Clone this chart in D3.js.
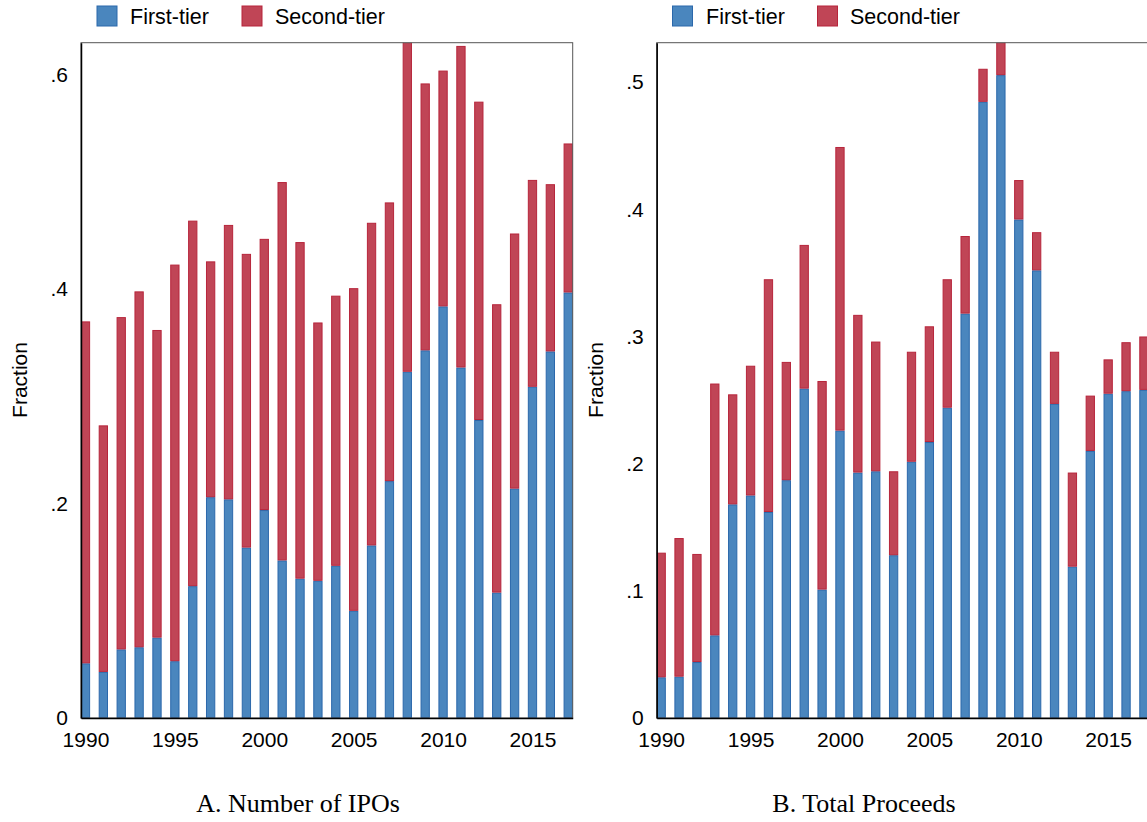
<!DOCTYPE html>
<html>
<head>
<meta charset="utf-8">
<script src="https://cdn.jsdelivr.net/npm/d3@7"></script>
<style>
  body { margin: 0; background: #fff; }
  svg { display: block; }
</style>
</head>
<body>
<svg id="chart" width="1147" height="822"></svg>
<script>
// years on the x axis
const years = [1990, 1991, 1992, 1993, 1994, 1995, 1996, 1997, 1998, 1999,
               2000, 2001, 2002, 2003, 2004, 2005, 2006, 2007, 2008, 2009,
               2010, 2011, 2012, 2013, 2014, 2015, 2016, 2017];
const xTickYears = [1990, 1995, 2000, 2005, 2010, 2015];
const seriesNames = ["First-tier", "Second-tier"];

// Panel A: number of IPOs
const ipoFirstTier = [0.051, 0.043, 0.064, 0.066, 0.075, 0.053, 0.123, 0.206, 0.204, 0.159,
                      0.194, 0.147, 0.130, 0.128, 0.142, 0.100, 0.161, 0.221, 0.323, 0.343,
                      0.384, 0.327, 0.278, 0.117, 0.214, 0.309, 0.342, 0.397];
const ipoSecondTier = [0.319, 0.230, 0.310, 0.332, 0.287, 0.370, 0.341, 0.220, 0.256, 0.274,
                       0.253, 0.353, 0.314, 0.241, 0.252, 0.301, 0.301, 0.260, 0.309, 0.249,
                       0.220, 0.300, 0.297, 0.269, 0.238, 0.193, 0.156, 0.139];
const ipoTicks = [0, 0.2, 0.4, 0.6];

// Panel B: total proceeds
const procFirstTier = [0.032, 0.0325, 0.044, 0.065, 0.168, 0.175, 0.162, 0.187, 0.259, 0.101,
                       0.226, 0.193, 0.194, 0.128, 0.2015, 0.217, 0.244, 0.318, 0.4845, 0.5055,
                       0.392, 0.352, 0.247, 0.119, 0.210, 0.255, 0.257, 0.258];
const procSecondTier = [0.098, 0.109, 0.085, 0.198, 0.0865, 0.102, 0.183, 0.093, 0.113, 0.164,
                        0.223, 0.124, 0.102, 0.066, 0.0865, 0.091, 0.101, 0.061, 0.026, 0.0275,
                        0.031, 0.030, 0.041, 0.074, 0.0435, 0.027, 0.0385, 0.042];
const procTicks = [0, 0.1, 0.2, 0.3, 0.4, 0.5];

const colors = { "First-tier": "#4a86be", "Second-tier": "#c04556" };
const strokes = { "First-tier": "#2b68ab", "Second-tier": "#b7253b" };

const svg = d3.select('#chart');
const sans = "'Liberation Sans', Arial, sans-serif";
const serif = "'Liberation Serif', 'Times New Roman', serif";

function fmtFraction(v) {
    if (v === 0) return "0";
    return d3.format(".1f")(v).replace(/^0/, "");
}

function drawPanel(opts) {
    const left = opts.left, top = 42.7, bottom = 718, width = 491.7;
    const g = svg.append("g");

    const rows = years.map((yr, i) => ({
        year: yr,
        "First-tier": opts.first[i],
        "Second-tier": opts.second[i]
    }));
    const stacked = d3.stack().keys(seriesNames)(rows);

    const x = d3.scaleLinear().domain([1989.75, 2017.25]).range([left, left + width]);
    const y = d3.scaleLinear().domain([0, opts.yMax]).range([bottom, top]);
    const barW = x(1990.52) - x(1990);

    // clip so bars never run out of the frame
    g.append("clipPath").attr("id", opts.id + "-clip")
        .append("rect")
        .attr("x", left).attr("y", top)
        .attr("width", width).attr("height", bottom - top);

    const bars = g.append("g").attr("clip-path", `url(#${opts.id}-clip)`);
    stacked.forEach(layer => {
        bars.append("g")
            .attr("fill", colors[layer.key])
            .attr("stroke", strokes[layer.key])
            .attr("stroke-width", 1)
            .selectAll("rect")
            .data(layer)
            .join("rect")
            .attr("x", d => x(d.data.year) - barW / 2 + 0.5)
            .attr("y", d => y(d[1]) + 0.5)
            .attr("width", barW - 1)
            .attr("height", d => Math.max(0, y(d[0]) - y(d[1]) - 1));
    });

    // frame (top and right)
    g.append("rect")
        .attr("x", left).attr("y", top)
        .attr("width", width).attr("height", bottom - top)
        .attr("fill", "none")
        .attr("stroke", "#555")
        .attr("stroke-width", 1);

    // y axis
    const yAxis = g.append("g")
        .attr("transform", `translate(${left},0)`)
        .call(d3.axisLeft(y).tickValues(opts.ticks).tickSize(0).tickPadding(13).tickFormat(fmtFraction));
    yAxis.select(".domain").attr("stroke", "#000").attr("stroke-width", 1.5);
    yAxis.selectAll("text").attr("font-family", sans).attr("font-size", 21).attr("fill", "#000");

    // x axis
    const xAxis = g.append("g")
        .attr("transform", `translate(0,${bottom})`)
        .call(d3.axisBottom(x).tickValues(xTickYears).tickSize(0).tickPadding(14).tickFormat(d3.format("d")));
    xAxis.select(".domain").attr("stroke", "#000").attr("stroke-width", 1.5);
    xAxis.selectAll("text").attr("font-family", sans).attr("font-size", 21).attr("fill", "#000");

    // y label
    g.append("text")
        .attr("transform", `translate(${opts.yLabelX},380) rotate(-90)`)
        .attr("text-anchor", "middle")
        .attr("font-family", sans)
        .attr("font-size", 21)
        .text("Fraction");

    // legend
    seriesNames.forEach((name, i) => {
        g.append("rect")
            .attr("x", opts.legendBox[i]).attr("y", 6)
            .attr("width", 20).attr("height", 20)
            .attr("fill", colors[name])
            .attr("stroke", strokes[name])
            .attr("stroke-width", 1);
        g.append("text")
            .attr("x", opts.legendText[i]).attr("y", 23.5)
            .attr("font-family", sans)
            .attr("font-size", 21.5)
            .text(name);
    });

    // panel caption
    g.append("text")
        .attr("x", opts.captionX).attr("y", 812)
        .attr("text-anchor", "middle")
        .attr("font-family", serif)
        .attr("font-size", 26)
        .text(opts.caption);
}

drawPanel({
    id: "ipos", left: 81, yMax: 0.63, ticks: ipoTicks,
    first: ipoFirstTier, second: ipoSecondTier,
    yLabelX: 26.5, legendBox: [97, 242], legendText: [130, 275],
    captionX: 298, caption: "A. Number of IPOs"
});

drawPanel({
    id: "proceeds", left: 656.7, yMax: 0.531, ticks: procTicks,
    first: procFirstTier, second: procSecondTier,
    yLabelX: 603, legendBox: [672.5, 817.5], legendText: [706, 850],
    captionX: 864, caption: "B. Total Proceeds"
});
</script>
</body>
</html>
